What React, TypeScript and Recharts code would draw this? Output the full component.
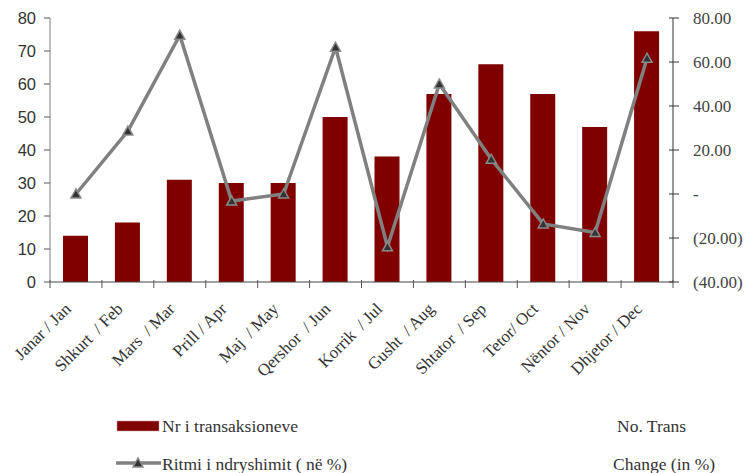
import React from 'react';
import { ComposedChart, Bar, Line, XAxis, YAxis } from 'recharts';

const months = [
  'Janar / Jan', 'Shkurt  / Feb', 'Mars  / Mar', 'Prill / Apr', 'Maj  / May', 'Qershor  / Jun',
  'Korrik  / Jul', 'Gusht  / Aug', 'Shtator  / Sep', 'Tetor/ Oct', 'Nëntor / Nov', 'Dhjetor / Dec',
];
const transactions = [14, 18, 31, 30, 30, 50, 38, 57, 66, 57, 47, 76];
const changePct = [0, 28.6, 72.2, -3.2, 0, 66.7, -24.0, 50.0, 15.8, -13.6, -17.5, 61.7];
const leftTicks = [0, 10, 20, 30, 40, 50, 60, 70, 80];
const rightTicks = [-40, -20, 0, 20, 40, 60, 80];

const data = months.map((m, i) => ({ month: m, trans: transactions[i], change: changePct[i] }));

const SERIF = '"Liberation Serif", "DejaVu Serif", serif';
const SANS = '"Liberation Sans", Arial, sans-serif';
const BAND = 623 / 12;

const fmtRight = (v: number) => {
  if (v === 0) return '-';
  if (v < 0) return `(${Math.abs(v).toFixed(2)})`;
  return v.toFixed(2);
};

const XTick = (props: any) => {
  const { x, y, payload, index } = props;
  const isLast = index === months.length - 1;
  const tx = x - 4;
  const ty = y + 28;
  return (
    <g>
      <line x1={x - BAND / 2} x2={x - BAND / 2} y1={y - 2} y2={y + 6} stroke="#555" strokeWidth={1} />
      {isLast && (
        <line x1={x + BAND / 2} x2={x + BAND / 2} y1={y - 2} y2={y + 6} stroke="#555" strokeWidth={1} />
      )}
      <text
        x={tx}
        y={ty}
        textAnchor="end"
        transform={`rotate(-45, ${tx}, ${ty})`}
        fontFamily={SERIF}
        fontSize={17}
        fill="#333"
        style={{ whiteSpace: 'pre' }}
      >
        {payload.value}
      </text>
    </g>
  );
};

const RTick = (props: any) => {
  const { x, y, payload } = props;
  return (
    <g>
      <line x1={x - 4} x2={x + 6} y1={y} y2={y} stroke="#333" strokeWidth={1} />
      <text x={x + 20} y={y} dy={5.5} textAnchor="start" fontFamily={SERIF} fontSize={17} fill="#444">
        {fmtRight(payload.value)}
      </text>
    </g>
  );
};

const Tri = (props: any) => {
  const { cx, cy } = props;
  if (cx == null || cy == null) return null;
  return (
    <polygon
      points={`${cx - 5},${cy + 4} ${cx + 5},${cy + 4} ${cx},${cy - 5}`}
      fill="#333"
      stroke="#8a8a8a"
      strokeWidth={1.5}
    />
  );
};

export default function App() {
  return (
    <div style={{ position: 'absolute', left: 0, top: 0, width: 745, height: 473, background: '#fff' }}>
      <ComposedChart
        width={745}
        height={473}
        data={data}
        margin={{ top: 18, right: 0, left: 0, bottom: 91 }}
        barSize={25}
      >
        <XAxis
          dataKey="month"
          xAxisId="x"
          height={100}
          interval={0}
          tickSize={0}
          tickMargin={0}
          tickLine={false}
          axisLine={{ stroke: '#444', strokeWidth: 1 }}
          tick={<XTick />}
        />
        <YAxis
          yAxisId="l"
          orientation="left"
          width={50}
          domain={[0, 80]}
          ticks={leftTicks}
          interval={0}
          tickSize={6}
          tickMargin={8}
          axisLine={{ stroke: '#aaa', strokeWidth: 1.5 }}
          tickLine={{ stroke: '#555' }}
          tick={{ fontFamily: SANS, fontSize: 16.5, fill: '#333' }}
        />
        <YAxis
          yAxisId="r"
          orientation="right"
          width={72}
          domain={[-40, 80]}
          ticks={rightTicks}
          interval={0}
          tickSize={0}
          tickMargin={0}
          tickLine={false}
          axisLine={{ stroke: '#777', strokeWidth: 1.5 }}
          tick={<RTick />}
        />
        <Bar xAxisId="x" yAxisId="l" dataKey="trans" fill="#800000" isAnimationActive={false} />
        <Line
          xAxisId="x"
          yAxisId="r"
          dataKey="change"
          stroke="#808080"
          strokeWidth={3.5}
          dot={<Tri />}
          activeDot={false}
          isAnimationActive={false}
        />
      </ComposedChart>
      <svg width={745} height={473} style={{ position: 'absolute', left: 0, top: 0, pointerEvents: 'none' }}>
        <rect x={117} y={421} width={42} height={10} fill="#800000" stroke="#c9a0a0" strokeWidth={0.5} />
        <text x={162} y={432} fontFamily={SERIF} fontSize={17.5} fill="#333">Nr i transaksioneve</text>
        <text x={617} y={432} fontFamily={SERIF} fontSize={17.5} fill="#333">No. Trans</text>
        <line x1={116} x2={161} y1={463} y2={463} stroke="#808080" strokeWidth={3.5} />
        <polygon points="133,467 143,467 138,458" fill="#333" stroke="#8a8a8a" strokeWidth={1.5} />
        <text x={162} y={470} fontFamily={SERIF} fontSize={17.5} fill="#333">Ritmi i ndryshimit ( në %)</text>
        <text x={613} y={470} fontFamily={SERIF} fontSize={17.5} fill="#333">Change (in %)</text>
      </svg>
    </div>
  );
}
